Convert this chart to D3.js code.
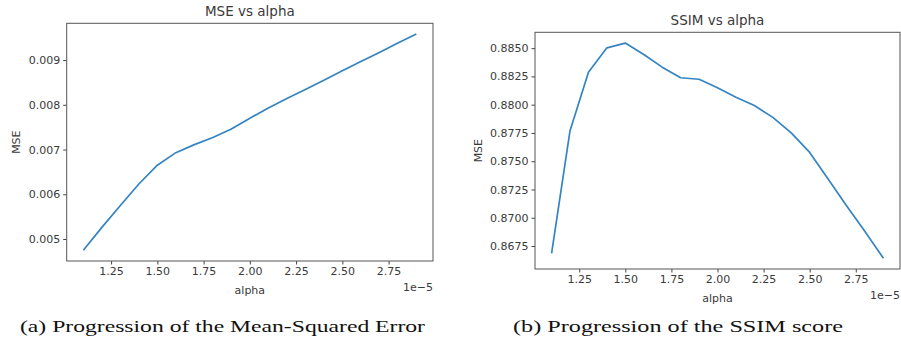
<!DOCTYPE html>
<html>
<head>
<meta charset="utf-8">
<script src="https://cdn.jsdelivr.net/npm/d3@7"></script>
<style>
  body { margin: 0; background: #fff; }
  svg text { font-family: "DejaVu Sans", sans-serif; fill: #3a3a3a; }
  .caption { font-family: "Liberation Serif", "DejaVu Serif", serif; fill: #111; }
</style>
</head>
<body>
<div id="chart"></div>
<script>
// alpha values (x 1e-5)
const alpha = [1.1, 1.2, 1.3, 1.4, 1.5, 1.6, 1.7, 1.8, 1.9, 2.0,
               2.1, 2.2, 2.3, 2.4, 2.5, 2.6, 2.7, 2.8, 2.9];

const mseValues = [0.00475, 0.00526, 0.00575, 0.00623, 0.00665, 0.00693, 0.00711, 0.00727, 0.00746, 0.00770,
                   0.00793, 0.00814, 0.00834, 0.00855, 0.00876, 0.00897, 0.00917, 0.00938, 0.00958];

const ssimValues = [0.86686, 0.8777, 0.88287, 0.88503, 0.88545, 0.88444, 0.88332, 0.88238, 0.88225, 0.88149,
                    0.88066, 0.87992, 0.87888, 0.8775, 0.87578, 0.87342, 0.87106, 0.86878, 0.86642];

const xTicks = [1.25, 1.50, 1.75, 2.00, 2.25, 2.50, 2.75];
const mseTicks = [0.005, 0.006, 0.007, 0.008, 0.009];
const ssimTicks = [0.8675, 0.8700, 0.8725, 0.8750, 0.8775, 0.8800, 0.8825, 0.8850];

const svg = d3.select("#chart")
    .append("svg")
    .attr("width", 901)
    .attr("height", 346);

function drawPanel(p) {
    const g = svg.append("g");
    const width = p.right - p.left;
    const height = p.bottom - p.top;

    // matplotlib style 5% margins
    const xPad = (d3.max(alpha) - d3.min(alpha)) * 0.05;
    const yMin = d3.min(p.values), yMax = d3.max(p.values);
    const yPad = (yMax - yMin) * 0.05;

    const x = d3.scaleLinear()
        .domain([d3.min(alpha) - xPad, d3.max(alpha) + xPad])
        .range([p.left, p.right]);
    const y = d3.scaleLinear()
        .domain([yMin - yPad, yMax + yPad])
        .range([p.bottom, p.top]);

    g.append("g")
        .attr("transform", `translate(0, ${p.bottom})`)
        .call(d3.axisBottom(x).tickValues(xTicks).tickFormat(d3.format(".2f")).tickSize(3.5).tickPadding(3))
        .call(a => a.select(".domain").remove());

    g.append("g")
        .attr("transform", `translate(${p.left}, 0)`)
        .call(d3.axisLeft(y).tickValues(p.yTicks).tickFormat(d3.format(p.yFormat)).tickSize(3.5).tickPadding(3))
        .call(a => a.select(".domain").remove());

    g.selectAll(".tick text")
        .attr("font-size", "11px")
        .attr("font-family", "DejaVu Sans, sans-serif")
        .attr("fill", "#3a3a3a");
    g.selectAll(".tick line").attr("stroke", "#444");

    g.append("path")
        .datum(alpha.map((a, i) => [a, p.values[i]]))
        .attr("fill", "none")
        .attr("stroke", "#3484c2")
        .attr("stroke-width", 1.7)
        .attr("stroke-linejoin", "round")
        .attr("d", d3.line().x(d => x(d[0])).y(d => y(d[1])));

    g.append("rect")
        .attr("x", p.left)
        .attr("y", p.top)
        .attr("width", width)
        .attr("height", height)
        .attr("fill", "none")
        .attr("stroke", "#555")
        .attr("stroke-width", 1);

    g.append("text")
        .attr("x", (p.left + p.right) / 2)
        .attr("y", p.top - 7)
        .attr("text-anchor", "middle")
        .attr("font-size", "13.5px")
        .text(p.title);

    g.append("text")
        .attr("x", (p.left + p.right) / 2)
        .attr("y", p.bottom + 33)
        .attr("text-anchor", "middle")
        .attr("font-size", "11px")
        .text("alpha");

    g.append("text")
        .attr("x", p.right)
        .attr("y", p.bottom + 30)
        .attr("text-anchor", "end")
        .attr("font-size", "11px")
        .text("1e\u22125");

    g.append("text")
        .attr("transform", `translate(${p.yLabelX}, ${(p.top + p.bottom) / 2}) rotate(-90)`)
        .attr("text-anchor", "middle")
        .attr("font-size", "11px")
        .text("MSE");

    g.append("text")
        .attr("class", "caption")
        .attr("x", p.capX)
        .attr("y", 332)
        .attr("font-size", "17px")
        .attr("textLength", p.capWidth)
        .attr("lengthAdjust", "spacingAndGlyphs")
        .text(p.caption);
}

drawPanel({
    values: mseValues, yTicks: mseTicks, yFormat: ".3f",
    left: 66.7, right: 433, top: 23.3, bottom: 261,
    title: "MSE vs alpha", yLabelX: 20,
    caption: "(a) Progression of the Mean-Squared Error", capX: 20, capWidth: 405
});

drawPanel({
    values: ssimValues, yTicks: ssimTicks, yFormat: ".4f",
    left: 535, right: 900, top: 32.3, bottom: 269,
    title: "SSIM vs alpha", yLabelX: 482,
    caption: "(b) Progression of the SSIM score", capX: 513, capWidth: 330
});
</script>
</body>
</html>
